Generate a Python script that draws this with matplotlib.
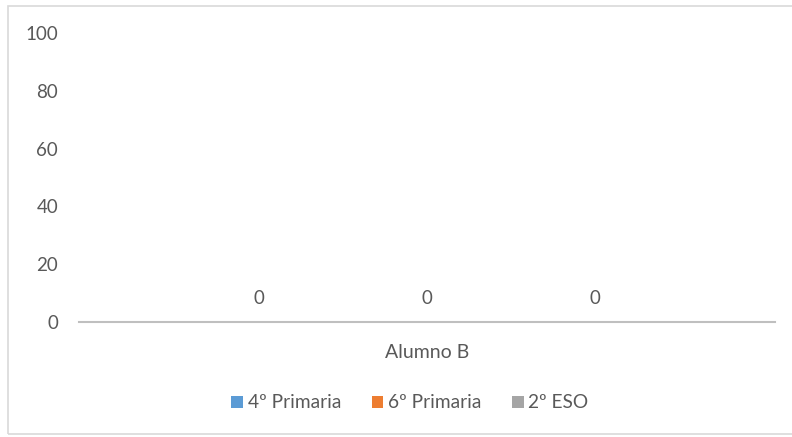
import matplotlib.pyplot as plt
import matplotlib.patches as mpatches
import numpy as np

plt.rcParams['font.family'] = ['Lato', 'DejaVu Sans']

# Chart data
categories = ['Alumno B']
series_names = ['4º Primaria', '6º Primaria', '2º ESO']
series_values = [[0], [0], [0]]
series_colors = ['#5B9BD5', '#ED7D31', '#A5A5A5']
y_ticks = [0, 20, 40, 60, 80, 100]

text_color = '#595959'

fig = plt.figure(figsize=(7.92, 4.37), dpi=100)
ax = fig.add_axes([79 / 792, 1 - 322 / 437, 696 / 792, 289 / 437])

# chart border (Excel style)
fig.patches.append(mpatches.Rectangle((8 / 792, 1 - 434 / 437), 1.0, 428 / 437,
                                      transform=fig.transFigure, fill=False,
                                      edgecolor='#D9D9D9', linewidth=1.2))

x = np.arange(len(categories))
offset = 168 / 696
handles = []
for i, (name, vals, col) in enumerate(zip(series_names, series_values, series_colors)):
    pos = x + (i - 1) * offset
    b = ax.bar(pos, vals, width=0.2, color=col, label=name)
    handles.append(b)
    for px, v in zip(pos, vals):
        ax.annotate(f'{v}', (px, v), xytext=(0, 11), textcoords='offset points',
                    ha='center', va='bottom', fontsize=13.5, color=text_color)

ax.set_xlim(-0.5, 0.5)
ax.set_ylim(0, 100)
ax.set_yticks(y_ticks)
ax.set_xticks(x)
ax.set_xticklabels(categories)
ax.tick_params(axis='y', length=0, pad=15, labelsize=13.5, labelcolor=text_color)
ax.tick_params(axis='x', length=0, pad=16, labelsize=14, labelcolor=text_color)
for s in ['top', 'right', 'left']:
    ax.spines[s].set_visible(False)
ax.spines['bottom'].set_color('#BFBFBF')
ax.spines['bottom'].set_linewidth(1.5)

leg = fig.legend(handles=handles, labels=series_names, loc='center',
                 bbox_to_anchor=(410 / 792, 1 - 403 / 437), ncol=3, frameon=False,
                 fontsize=13.8, handlelength=0.6, handleheight=0.6, handletextpad=0.25,
                 columnspacing=1.6)
for t in leg.get_texts():
    t.set_color(text_color)

fig.savefig('out.png', dpi=100)
